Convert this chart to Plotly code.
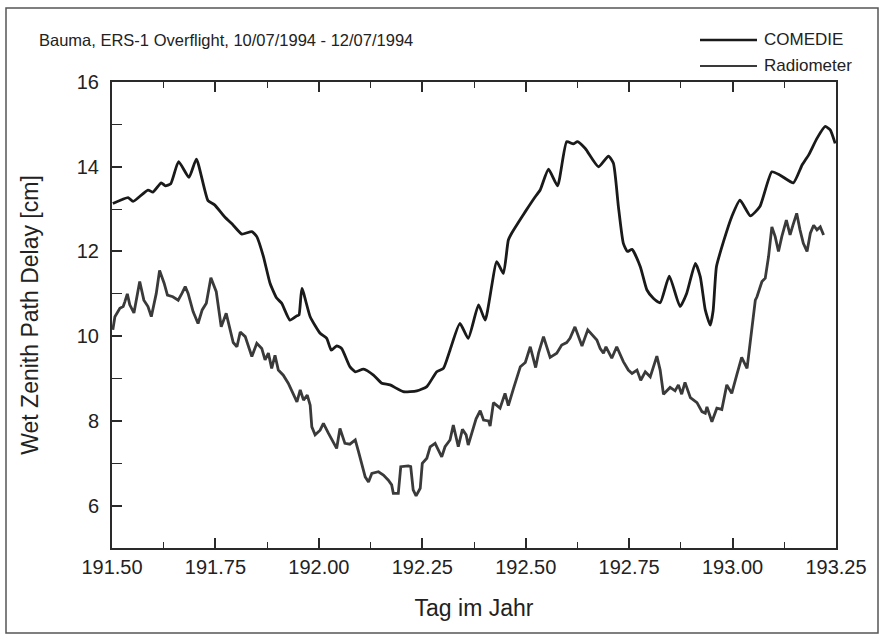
import plotly.graph_objects as go

# ---- data ----
comedie_day = [191.502, 191.539, 191.551, 191.587, 191.599, 191.619, 191.629, 191.642,
               191.661, 191.686, 191.704, 191.732, 191.748, 191.772, 191.793, 191.814,
               191.838, 191.850, 191.866, 191.882, 191.898, 191.910, 191.930, 191.947,
               191.952, 191.959, 191.979, 192.003, 192.019, 192.030, 192.043, 192.055,
               192.075, 192.088, 192.108, 192.132, 192.152, 192.172, 192.204, 192.237,
               192.261, 192.285, 192.301, 192.317, 192.341, 192.361, 192.386, 192.402,
               192.430, 192.446, 192.458, 192.466, 192.491, 192.499, 192.523, 192.535,
               192.555, 192.577, 192.599, 192.615, 192.625, 192.644, 192.676, 192.700,
               192.712, 192.724, 192.736, 192.746, 192.757, 192.777, 192.793, 192.809,
               192.825, 192.847, 192.873, 192.889, 192.910, 192.922, 192.934, 192.946,
               192.953, 192.961, 192.978, 192.998, 193.018, 193.043, 193.066, 193.095,
               193.115, 193.147, 193.168, 193.184, 193.204, 193.224, 193.236, 193.248]
comedie_wzd = [13.13, 13.27, 13.18, 13.45, 13.40, 13.62, 13.55, 13.60,
               14.12, 13.75, 14.18, 13.20, 13.10, 12.82, 12.62, 12.41,
               12.47, 12.35, 11.88, 11.25, 10.90, 10.78, 10.38, 10.48,
               10.50, 11.13, 10.46, 10.07, 9.95, 9.67, 9.77, 9.71,
               9.28, 9.16, 9.22, 9.08, 8.89, 8.85, 8.69, 8.71,
               8.81, 9.16, 9.24, 9.67, 10.30, 9.95, 10.74, 10.38,
               11.76, 11.48, 12.27, 12.43, 12.82, 12.94, 13.29, 13.45,
               13.94, 13.55, 14.59, 14.54, 14.59, 14.43, 14.00, 14.25,
               14.08, 13.06, 12.19, 12.00, 12.05, 11.64, 11.09, 10.89,
               10.79, 11.42, 10.70, 11.01, 11.72, 11.40, 10.62, 10.26,
               10.60, 11.64, 12.23, 12.82, 13.21, 12.84, 13.06, 13.88,
               13.80, 13.62, 14.04, 14.28, 14.67, 14.95, 14.87, 14.55]

radio_day = [191.502, 191.507, 191.519, 191.527, 191.531, 191.537, 191.543, 191.553,
             191.567, 191.577, 191.587, 191.595, 191.607, 191.615, 191.626, 191.634,
             191.647, 191.660, 191.669, 191.677, 191.684, 191.696, 191.708, 191.718,
             191.728, 191.739, 191.752, 191.764, 191.776, 191.782, 191.793, 191.802,
             191.810, 191.822, 191.830, 191.838, 191.850, 191.862, 191.870, 191.878,
             191.886, 191.894, 191.902, 191.914, 191.926, 191.938, 191.947, 191.955,
             191.963, 191.972, 191.979, 191.983, 191.991, 192.003, 192.011, 192.023,
             192.035, 192.043, 192.051, 192.063, 192.075, 192.088, 192.096, 192.104,
             192.112, 192.120, 192.128, 192.144, 192.156, 192.168, 192.176, 192.180,
             192.192, 192.198, 192.216, 192.222, 192.228, 192.235, 192.245, 192.250,
             192.261, 192.269, 192.281, 192.289, 192.297, 192.305, 192.317, 192.325,
             192.337, 192.347, 192.356, 192.361, 192.373, 192.380, 192.390, 192.398,
             192.410, 192.414, 192.422, 192.438, 192.450, 192.458, 192.470, 192.487,
             192.499, 192.511, 192.524, 192.531, 192.543, 192.559, 192.575, 192.587,
             192.599, 192.607, 192.619, 192.636, 192.650, 192.664, 192.672, 192.680,
             192.688, 192.694, 192.708, 192.720, 192.736, 192.748, 192.757, 192.769,
             192.778, 192.789, 192.801, 192.817, 192.825, 192.833, 192.849, 192.861,
             192.869, 192.877, 192.885, 192.898, 192.914, 192.926, 192.934, 192.938,
             192.946, 192.950, 192.962, 192.974, 192.986, 192.998, 193.010, 193.022,
             193.035, 193.047, 193.055, 193.059, 193.071, 193.079, 193.087, 193.095,
             193.103, 193.111, 193.119, 193.130, 193.139, 193.146, 193.155, 193.163,
             193.171, 193.180, 193.188, 193.196, 193.204, 193.212, 193.220]
radio_wzd = [10.15, 10.46, 10.66, 10.70, 10.81, 11.00, 10.74, 10.55,
             11.29, 10.85, 10.70, 10.46, 11.01, 11.55, 11.25, 10.97,
             10.93, 10.85, 11.01, 11.17, 11.01, 10.58, 10.30, 10.62,
             10.78, 11.38, 11.05, 10.22, 10.54, 10.30, 9.85, 9.75,
             10.10, 9.99, 9.75, 9.52, 9.83, 9.71, 9.44, 9.60,
             9.24, 9.55, 9.20, 9.08, 8.89, 8.65, 8.45, 8.73,
             8.49, 8.61, 8.37, 7.86, 7.67, 7.78, 7.94, 7.71,
             7.51, 7.35, 7.82, 7.47, 7.45, 7.55, 7.27, 7.00,
             6.68, 6.56, 6.76, 6.80, 6.72, 6.60, 6.49, 6.29,
             6.29, 6.92, 6.94, 6.92, 6.37, 6.23, 6.41, 7.00,
             7.12, 7.39, 7.47, 7.31, 7.15, 7.39, 7.55, 7.90,
             7.39, 7.80, 7.67, 7.43, 7.85, 8.05, 8.24, 8.02,
             8.00, 7.88, 8.43, 8.30, 8.65, 8.36, 8.75, 9.28,
             9.38, 9.75, 9.26, 9.60, 9.99, 9.50, 9.60, 9.79,
             9.85, 9.95, 10.22, 9.77, 10.15, 10.00, 9.91, 9.71,
             9.60, 9.75, 9.48, 9.75, 9.40, 9.20, 9.12, 9.20,
             8.96, 9.16, 9.04, 9.53, 9.20, 8.63, 8.79, 8.71,
             8.85, 8.63, 8.91, 8.55, 8.43, 8.22, 8.18, 8.33,
             8.06, 7.98, 8.30, 8.27, 8.85, 8.65, 9.08, 9.50,
             9.24, 10.18, 10.85, 10.93, 11.29, 11.37, 11.88, 12.58,
             12.35, 12.00, 12.35, 12.74, 12.39, 12.62, 12.90, 12.51,
             12.19, 12.00, 12.43, 12.62, 12.51, 12.58, 12.39]

x_ticks = [191.50, 191.75, 192.00, 192.25, 192.50, 192.75, 193.00, 193.25]
x_tick_labels = ["191.50", "191.75", "192.00", "192.25", "192.50", "192.75", "193.00", "193.25"]
y_ticks = [6, 8, 10, 12, 14, 16]

title_text = "Bauma, ERS-1 Overflight, 10/07/1994 - 12/07/1994"
series_names = ["COMEDIE", "Radiometer"]
series_colors = ["#1a1a1a", "#3a3a3a"]

FONT = "Liberation Sans, Arial, Helvetica, sans-serif"
AXC = "#2a2a2a"

fig = go.Figure()
fig.add_trace(go.Scatter(x=comedie_day, y=comedie_wzd, mode="lines", name=series_names[0],
                         line=dict(color=series_colors[0], width=2.8, shape="spline", smoothing=0.5),
                         showlegend=False))
fig.add_trace(go.Scatter(x=radio_day, y=radio_wzd, mode="lines", name=series_names[1],
                         line=dict(color=series_colors[1], width=2.8),
                         showlegend=False))

W, H = 883, 640
L, R, T, B = 112, 47, 82, 92
pw, ph = W - L - R, H - T - B

def px(xp):
    return (xp - L) / pw

def py(yp):
    return (H - B - yp) / ph

fig.update_layout(
    width=W, height=H,
    margin=dict(l=L, r=R, t=T, b=B, pad=0),
    paper_bgcolor="white", plot_bgcolor="white",
    font=dict(family=FONT, color="#222"),
    showlegend=False,
)

fig.update_xaxes(
    range=[191.5, 193.25], tickmode="array", tickvals=x_ticks, ticktext=x_tick_labels,
    ticks="inside", ticklen=10, tickwidth=1.6, tickcolor=AXC,
    minor=dict(dtick=0.125, tick0=191.5, ticks="inside", ticklen=6, tickwidth=1.4, tickcolor=AXC),
    showline=True, linecolor=AXC, linewidth=2, mirror="ticks",
    showgrid=False, zeroline=False,
    tickfont=dict(size=20, family=FONT, color="#222"),
    title=dict(text="Tag im Jahr", font=dict(size=23, family=FONT, color="#222"), standoff=23),
)
fig.update_yaxes(
    range=[5, 16], tickmode="array", tickvals=y_ticks,
    ticks="inside", ticklen=10, tickwidth=1.6, tickcolor=AXC,
    minor=dict(dtick=1, tick0=5, ticks="inside", ticklen=10, tickwidth=1.4, tickcolor=AXC),
    showline=True, linecolor=AXC, linewidth=2, mirror=True,
    showgrid=False, zeroline=False,
    tickfont=dict(size=20, family=FONT, color="#222"),
    ticklabelstandoff=7,
    title=dict(text="Wet Zenith Path Delay [cm]", font=dict(size=23, family=FONT, color="#222"), standoff=32),
)

# outer frame
fig.add_shape(type="rect", xref="paper", yref="paper",
              x0=px(6), x1=px(878), y0=py(633), y1=py(8),
              line=dict(color="#555", width=1.5), layer="below")

# title
fig.add_annotation(text=title_text, xref="paper", yref="paper", x=px(37), y=py(40),
                   xanchor="left", yanchor="middle", showarrow=False,
                   font=dict(size=16.5, family=FONT, color="#222"))

# legend (drawn manually to match sample length)
for name, col, yy, lw in zip(series_names, series_colors, [40, 66], [2.4, 2.0]):
    fig.add_shape(type="line", xref="paper", yref="paper",
                  x0=px(700), x1=px(757), y0=py(yy), y1=py(yy),
                  line=dict(color=col, width=lw))
    fig.add_annotation(text=name, xref="paper", yref="paper", x=px(762), y=py(yy),
                       xanchor="left", yanchor="middle", showarrow=False,
                       font=dict(size=17, family=FONT, color="#222"))

fig.write_html("out.html")
